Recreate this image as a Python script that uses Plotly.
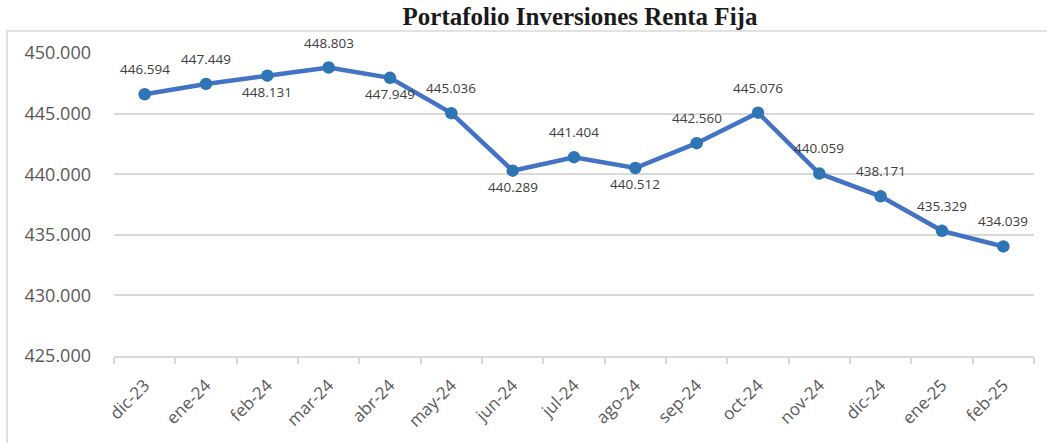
import plotly.graph_objects as go

# Monthly portfolio value (fixed income investments)
months = ["dic-23", "ene-24", "feb-24", "mar-24", "abr-24", "may-24", "jun-24",
          "jul-24", "ago-24", "sep-24", "oct-24", "nov-24", "dic-24", "ene-25", "feb-25"]
values = [446594, 447449, 448131, 448803, 447949, 445036, 440289,
          441404, 440512, 442560, 445076, 440059, 438171, 435329, 434039]
y_ticks = [425000, 430000, 435000, 440000, 445000, 450000]

# Which points carry their value label beneath the marker
below = {"feb-24", "abr-24", "jun-24", "ago-24"}

GRID = "#d9d9d9"
TEXT = "#595959"
SANS = "Open Sans, Liberation Sans, Arial, sans-serif"

W, H = 1047, 443
L, R, T, B = 114, 13, 53, 87
pw, ph = W - L - R, H - T - B


def fmt(v):
    return f"{v:,}".replace(",", ".")


fig = go.Figure()
fig.add_trace(go.Scatter(
    x=months, y=values, mode="lines+markers",
    line=dict(color="#4472C4", width=4.5),
    marker=dict(color="#2E75B6", size=12.5),
    hoverinfo="x+y",
))

annotations = []
for m, v in zip(months, values):
    annotations.append(dict(
        x=m, y=v, xref="x", yref="y", text=fmt(v), showarrow=False,
        yshift=-16 if m in below else 25,
        font=dict(family=SANS, size=13.5, color="#404040"),
    ))

# Outer chart frame
frame = dict(
    type="rect", xref="paper", yref="paper",
    x0=(7 - L) / pw, x1=(W + 5 - L) / pw,
    y0=-(B + 10) / ph, y1=(ph + T - 31) / ph,
    line=dict(color=GRID, width=1.5), fillcolor="rgba(0,0,0,0)", layer="below",
)

fig.update_layout(
    width=W, height=H,
    margin=dict(l=L, r=R, t=T, b=B),
    paper_bgcolor="white", plot_bgcolor="white",
    separators=",.",
    showlegend=False,
    title=dict(
        text="<b>Portafolio Inversiones Renta Fija</b>",
        x=(580 - L) / pw, xref="paper", xanchor="center",
        y=1 - 16 / H, yref="container", yanchor="middle",
        font=dict(family="Liberation Serif, Times New Roman, serif", size=25, color="#1a1a1a"),
    ),
    xaxis=dict(
        type="category", range=[-0.5, len(months) - 0.5],
        showgrid=False, showline=True, linecolor=GRID, linewidth=1.5,
        ticks="outside", tickson="boundaries", ticklen=6, tickcolor=GRID, tickwidth=1.5,
        tickangle=-45, ticklabelstandoff=11,
        tickfont=dict(family=SANS, size=17, color=TEXT),
        fixedrange=True,
    ),
    yaxis=dict(
        range=[425000, 450000], tickvals=y_ticks, tickformat=",d",
        showgrid=True, gridcolor=GRID, gridwidth=1.5,
        zeroline=False, showline=False, ticks="", ticklabelstandoff=22,
        tickfont=dict(family=SANS, size=18, color=TEXT),
        fixedrange=True,
    ),
    annotations=annotations,
    shapes=[frame],
)

fig.write_html("out.html")
